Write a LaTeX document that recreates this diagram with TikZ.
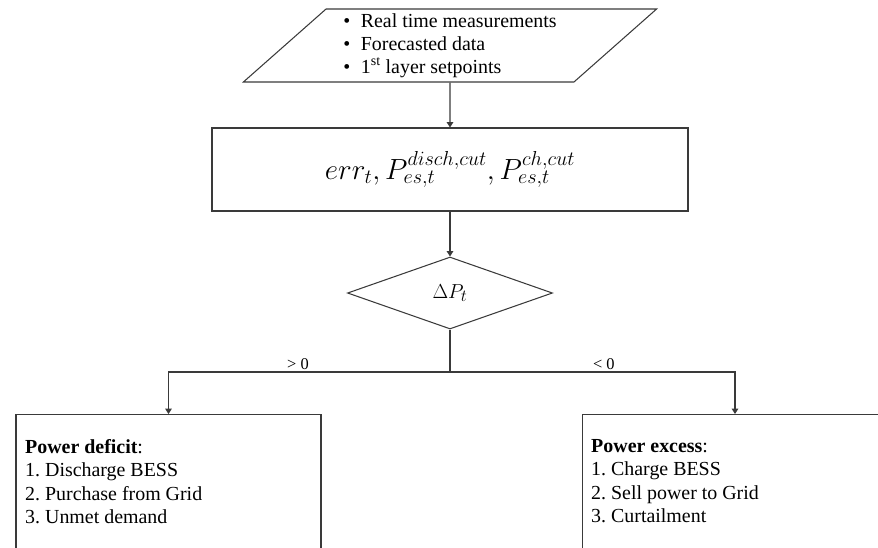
\documentclass[tikz,border=0pt]{standalone}
\usepackage{fontspec}
\setmainfont{Liberation Serif}
\usetikzlibrary{arrows.meta,positioning,calc,shapes.geometric}
\definecolor{lineC}{HTML}{3A3A3A}
\tikzset{
  inbox/.style={trapezium, trapezium left angle=42, trapezium right angle=138,
               trapezium stretches=true, draw=lineC, line width=0.9pt,
               minimum width=12.45cm, minimum height=2.19cm, inner sep=0pt,
               align=left, font=\fontsize{17}{19.6}\selectfont},
  procbox/.style={rectangle, draw=lineC, line width=0.9pt, minimum width=14.28cm,
               minimum height=2.49cm, font=\fontsize{23.5}{27}\selectfont},
  decis/.style={diamond, aspect=2.85, draw=lineC, line width=0.9pt, inner sep=0pt,
               minimum width=6.15cm, minimum height=2.16cm, font=\fontsize{19}{22}\selectfont},
  outbox/.style={rectangle, draw=lineC, line width=0.9pt, minimum width=9.15cm,
               minimum height=6cm, anchor=north},
  listtxt/.style={anchor=north west, inner sep=0pt, align=left,
               font=\fontsize{17}{20}\selectfont},
  lbl/.style={font=\fontsize{14}{16}\selectfont, inner sep=1.5pt},
  arr/.style={-{Triangle[length=4.5pt,width=5.5pt]}, line width=0.9pt, draw=lineC},
}

\begin{document}
\begin{tikzpicture}[x=0.03cm, y=-0.03cm]
    \useasboundingbox (0,0) rectangle (878,547);
    \clip (0,0) rectangle (878,547);
    \node[inbox] (inp) at (450,45.5) {\textbullet\hspace{9pt}Real time measurements\\
      \textbullet\hspace{9pt}Forecasted data\\
      \textbullet\hspace{9pt}1\textsuperscript{st} layer setpoints};
    \node[procbox] (err) at (450,169.5) {$err_t, P_{es,t}^{disch,cut}, P_{es,t}^{ch,cut}$};
    \node[decis] (dP) at (450,293) {$\Delta P_t$};
    \coordinate (split) at (450,372);
    \node[outbox] (deficit) at (168.5,414) {};
    \node[outbox] (excess) at (735,414) {};
    \node[listtxt] (deftxt) at (25,439) {\textbf{Power deficit}:\\1.\ Discharge BESS\\2.\ Purchase from Grid\\3.\ Unmet demand};
    \node[listtxt] (exctxt) at (591,439) {\textbf{Power excess}:\\1.\ Charge BESS\\2.\ Sell power to Grid\\3.\ Curtailment};
    \draw[arr](inp.south)--(err.north); \draw[arr](err.south)--(dP.north);
    \draw[lineC, line width=0.9pt](dP.south)--(split);
    \draw[arr](split) -| node[lbl, pos=0.27, above]{> 0} (deficit.north);
    \draw[arr](split) -| node[lbl, pos=0.27, above]{< 0} (excess.north);
  \end{tikzpicture}
\end{document}
